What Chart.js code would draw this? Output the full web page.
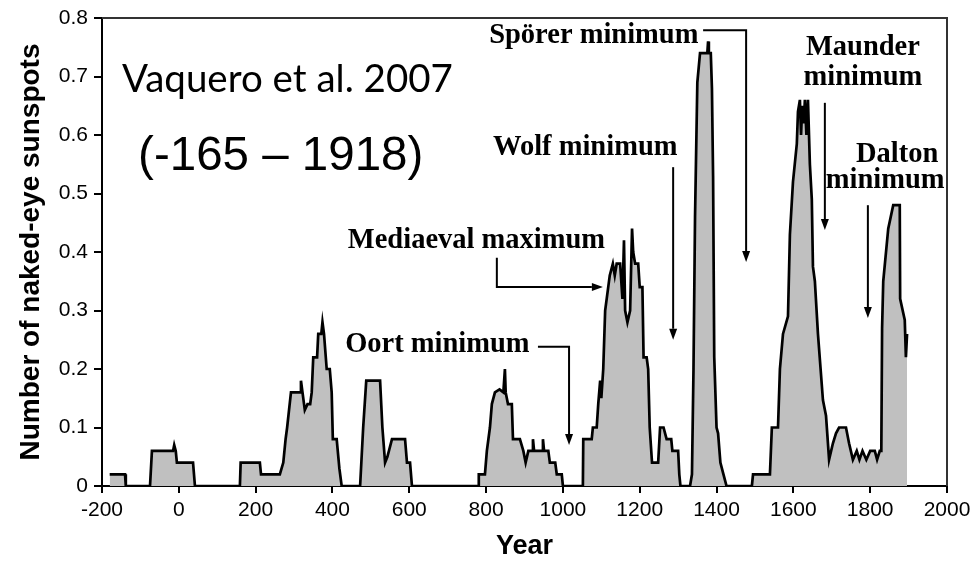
<!DOCTYPE html>
<html>
<head>
<meta charset="utf-8">
<script src="https://cdn.jsdelivr.net/npm/chart.js@4.4.1/dist/chart.umd.min.js"></script>
<style>
  html, body { margin: 0; padding: 0; background: #fff; }
  canvas { display: block; }
</style>
</head>
<body>
<canvas id="sunspotChart" width="970" height="563"></canvas>
<script>
// ===== Data: naked-eye sunspot index =====
const years = [
  -180, -140, -138, -75, -70, -15, -12, -8, -5, 37, 42,
  159, 161, 211, 214, 263, 272, 278, 282, 287, 292, 316, 318, 322, 328, 335, 342,
  346, 350, 360, 363, 371, 374, 378, 385, 393, 398, 401, 411, 418, 424,
  472, 480, 488, 524, 530, 537, 543, 555, 589, 594, 602, 607,
  779, 781, 797, 802, 810, 815, 823, 835, 845, 849, 851, 857, 867, 870, 888,
  897, 903, 910, 920, 922, 925, 946, 948, 951, 962, 966, 980, 984, 997, 1000,
  1052, 1053, 1075, 1078, 1088, 1092, 1097, 1100, 1105, 1110, 1118, 1122, 1130,
  1135, 1140, 1149, 1155, 1159, 1162, 1168, 1175, 1180, 1183, 1188, 1196, 1200,
  1207, 1210, 1218, 1222, 1226, 1232, 1248, 1253, 1262, 1266, 1270, 1282, 1285,
  1300, 1303, 1306,
  1331, 1336, 1340, 1344, 1350, 1357, 1376, 1378, 1380, 1385, 1388, 1391, 1394,
  1400, 1404, 1410, 1418, 1426,
  1492, 1495, 1539, 1544, 1560, 1565, 1573, 1586, 1591, 1599, 1609, 1612, 1617,
  1620, 1623, 1627, 1630, 1634, 1638, 1643, 1648, 1651, 1656, 1664, 1677, 1685,
  1693, 1703, 1711, 1719, 1737, 1745, 1755, 1765, 1772, 1780, 1790, 1800, 1812,
  1818, 1825, 1829, 1831, 1834, 1847, 1860, 1877, 1878, 1890, 1893, 1896
];
const sunspots = [
  0.02, 0.02, 0, 0, 0.06, 0.06, 0.07, 0.06, 0.04, 0.04, 0,
  0, 0.04, 0.04, 0.02, 0.02, 0.04, 0.08, 0.10, 0.13, 0.16, 0.16, 0.18, 0.16, 0.13, 0.14, 0.14,
  0.16, 0.22, 0.22, 0.26, 0.26, 0.28, 0.26, 0.20, 0.20, 0.16, 0.08, 0.08, 0.03, 0,
  0, 0.10, 0.18, 0.18, 0.10, 0.04, 0.05, 0.08, 0.08, 0.04, 0.04, 0,
  0, 0.02, 0.02, 0.06, 0.10, 0.14, 0.16, 0.165, 0.16, 0.20, 0.16, 0.14, 0.14, 0.08, 0.08,
  0.06, 0.04, 0.06, 0.06, 0.08, 0.06, 0.06, 0.08, 0.06, 0.06, 0.04, 0.04, 0.02, 0.02, 0,
  0, 0.08, 0.08, 0.10, 0.10, 0.14, 0.18, 0.15, 0.20, 0.30, 0.34, 0.36, 0.38,
  0.36, 0.38, 0.38, 0.32, 0.42, 0.30, 0.28, 0.30, 0.44, 0.40, 0.38, 0.38, 0.34,
  0.34, 0.22, 0.22, 0.20, 0.10, 0.04, 0.04, 0.10, 0.10, 0.09, 0.08, 0.08, 0.06,
  0.06, 0.02, 0,
  0, 0.02, 0.20, 0.46, 0.69, 0.74, 0.74, 0.76, 0.74, 0.74, 0.68, 0.53, 0.22,
  0.10, 0.09, 0.04, 0.02, 0,
  0, 0.02, 0.02, 0.10, 0.10, 0.20, 0.26, 0.29, 0.43, 0.52, 0.585, 0.64, 0.66,
  0.60, 0.65, 0.62, 0.66, 0.60, 0.66, 0.55, 0.49, 0.375, 0.35, 0.26, 0.147, 0.12,
  0.045, 0.073, 0.09, 0.10, 0.10, 0.073, 0.045, 0.06, 0.045, 0.06, 0.045, 0.06, 0.06,
  0.045, 0.06, 0.06, 0.27, 0.35, 0.44, 0.48, 0.48, 0.32, 0.284, 0.22, 0.26
];
const xTickLabels = ['-200', '0', '200', '400', '600', '800', '1000', '1200', '1400', '1600', '1800', '2000'];
const yTickLabels = ['0', '0.1', '0.2', '0.3', '0.4', '0.5', '0.6', '0.7', '0.8'];

// ===== Annotations (placed in year / value coordinates) =====
const notes = [
  { text: 'Spörer minimum', x: 808, y: 0.757, align: 'left' },
  { text: 'Wolf minimum', x: 818, y: 0.566, align: 'left' },
  { text: 'Mediaeval maximum', x: 440, y: 0.407, align: 'left' },
  { text: 'Oort minimum', x: 433, y: 0.229, align: 'left' },
  { text: 'Maunder', x: 1781, y: 0.737, align: 'center' },
  { text: 'minimum', x: 1781, y: 0.685, align: 'center' },
  { text: 'Dalton', x: 1870, y: 0.554, align: 'center' },
  { text: 'minimum', x: 1839, y: 0.509, align: 'center' }
];
const arrows = [
  [[1365, 0.779], [1477, 0.779], [1477, 0.383]],
  [[1287, 0.545], [1287, 0.25]],
  [[828, 0.39], [828, 0.34], [1104, 0.34]],
  [[935, 0.238], [1016, 0.238], [1016, 0.07]],
  [[1682, 0.655], [1682, 0.4376]],
  [[1794, 0.48], [1794, 0.287]]
];

const SANS = '"Liberation Sans", Arial, sans-serif';
const SERIF = '"Liberation Serif", "Times New Roman", serif';

// kotak di atas & kanan plot
const frame = {
  id: 'frame',
  afterDatasetsDraw(chart) {
    const { ctx, chartArea: a } = chart;
    ctx.save();
    ctx.strokeStyle = '#333';
    ctx.lineWidth = 2;
    ctx.beginPath();
    ctx.moveTo(a.left, a.top);
    ctx.lineTo(a.right, a.top);
    ctx.lineTo(a.right, a.bottom);
    ctx.stroke();
    ctx.restore();
  }
};

const annot = {
  id: 'annot',
  afterDraw(chart) {
    const { ctx } = chart;
    const sx = chart.scales.x, sy = chart.scales.y;
    const px = v => sx.getPixelForValue(v);
    const py = v => sy.getPixelForValue(v);
    ctx.save();
    ctx.fillStyle = '#000';
    ctx.strokeStyle = '#000';

    // source text
    ctx.textAlign = 'left';
    ctx.textBaseline = 'alphabetic';
    ctx.font = '38.5px Lato, "Open Sans", sans-serif';
    ctx.fillText('Vaquero et al. 2007', px(-148), py(0.673));
    ctx.font = '47.5px ' + SANS;
    ctx.fillText('(-165 – 1918)', px(-106), py(0.54));

    ctx.font = 'bold 28.5px ' + SERIF;
    notes.forEach(n => {
      ctx.textAlign = n.align;
      ctx.fillText(n.text, px(n.x), py(n.y));
    });

    ctx.lineWidth = 2;
    arrows.forEach(pts => {
      const p = pts.map(q => [px(q[0]), py(q[1])]);
      const [x1, y1] = p[p.length - 2];
      const [x2, y2] = p[p.length - 1];
      const ang = Math.atan2(y2 - y1, x2 - x1);
      const len = 11, hw = 4;
      ctx.beginPath();
      ctx.moveTo(p[0][0], p[0][1]);
      for (let i = 1; i < p.length - 1; i++) ctx.lineTo(p[i][0], p[i][1]);
      ctx.lineTo(x2 - Math.cos(ang) * len, y2 - Math.sin(ang) * len);
      ctx.stroke();
      ctx.beginPath();
      ctx.moveTo(x2, y2);
      ctx.lineTo(x2 - Math.cos(ang) * len - Math.sin(ang) * hw, y2 - Math.sin(ang) * len + Math.cos(ang) * hw);
      ctx.lineTo(x2 - Math.cos(ang) * len + Math.sin(ang) * hw, y2 - Math.sin(ang) * len - Math.cos(ang) * hw);
      ctx.closePath();
      ctx.fill();
    });
    ctx.restore();
  }
};

const ctx = document.getElementById('sunspotChart').getContext('2d');
new Chart(ctx, {
  type: 'line',
  data: {
    datasets: [{
      data: years.map((yr, i) => ({ x: yr, y: sunspots[i] })),
      borderColor: '#000',
      borderWidth: 2.7,
      backgroundColor: '#c0c0c0',
      fill: 'origin',
      pointRadius: 0,
      tension: 0
    }]
  },
  options: {
    responsive: false,
    animation: false,
    layout: { padding: { top: 18, right: 23, bottom: 0, left: 0 } },
    plugins: {
      legend: { display: false },
      tooltip: { enabled: false }
    },
    scales: {
      x: {
        type: 'linear',
        min: -200,
        max: 2000,
        afterFit: s => { s.height = 77; s.paddingLeft = 0; s.paddingRight = 0; },
        ticks: {
          stepSize: 200,
          color: '#000',
          padding: 5,
          maxRotation: 0,
          font: { family: SANS, size: 21 },
          callback: (v, i) => xTickLabels[i]
        },
        grid: { drawOnChartArea: false, tickLength: 7, color: '#000', lineWidth: 2 },
        border: { color: '#000', width: 2 },
        title: {
          display: true,
          text: 'Year',
          color: '#000',
          padding: { top: 0, bottom: 0 },
          font: { family: SANS, size: 27, weight: 'bold' }
        }
      },
      y: {
        min: 0,
        max: 0.8,
        afterFit: s => { s.width = 102; s.paddingTop = 0; s.paddingBottom = 0; },
        ticks: {
          stepSize: 0.1,
          color: '#000',
          padding: 6,
          font: { family: SANS, size: 21 },
          callback: (v, i) => yTickLabels[i]
        },
        grid: { drawOnChartArea: false, tickLength: 8, color: '#000', lineWidth: 2 },
        border: { color: '#000', width: 2 },
        title: {
          display: true,
          text: 'Number of naked-eye sunspots',
          color: '#000',
          padding: { top: 14, bottom: 0 },
          font: { family: SANS, size: 28, weight: 'bold' }
        }
      }
    }
  },
  plugins: [frame, annot]
});
</script>
</body>
</html>
